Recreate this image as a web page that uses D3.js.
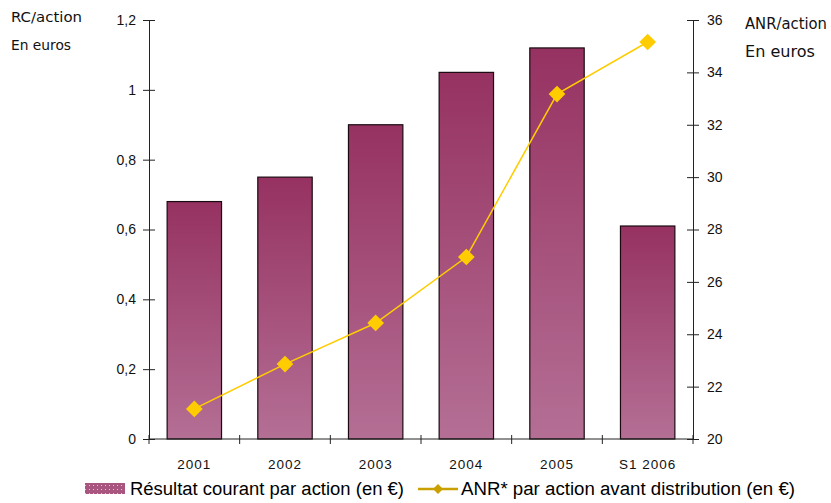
<!DOCTYPE html>
<html>
<head>
<meta charset="utf-8">
<script src="https://cdn.jsdelivr.net/npm/d3@7"></script>
<style>
  html, body { margin: 0; padding: 0; background: #fff; }
  svg { display: block; }
</style>
</head>
<body>
<svg id="chart" width="831" height="503"></svg>
<script>
// Per-share figures by period
const categories = ["2001", "2002", "2003", "2004", "2005", "S1 2006"];
const rcValues = [0.68, 0.75, 0.90, 1.05, 1.12, 0.61];        // Résultat courant par action (€)
const anrValues = [21.15, 22.86, 24.43, 26.95, 33.17, 35.16];  // ANR par action avant distribution (€)
const leftTicks = [0, 0.2, 0.4, 0.6, 0.8, 1, 1.2];
const rightTicks = [20, 22, 24, 26, 28, 30, 32, 34, 36];
const legendLabels = ["Résultat courant par action (en €)", "ANR* par action avant distribution (en €)"];

const svg = d3.select("#chart");
const plot = { left: 149, right: 693, top: 20, bottom: 439 };

const x = d3.scaleBand().domain(categories).range([plot.left, plot.right]).paddingInner(0.4).paddingOuter(0.2);
const xEdges = d3.scaleLinear().domain([0, categories.length]).range([plot.left, plot.right]);
const yL = d3.scaleLinear().domain([0, 1.2]).range([plot.bottom, plot.top]);
const yR = d3.scaleLinear().domain([20, 36]).range([plot.bottom, plot.top]);

const defs = svg.append("defs");
const grad = defs.append("linearGradient").attr("id", "barGrad")
  .attr("x1", 0).attr("y1", 0).attr("x2", 0).attr("y2", 1);
grad.append("stop").attr("offset", "0%").attr("stop-color", "#963262");
grad.append("stop").attr("offset", "100%").attr("stop-color", "#b46f95");

const pat = defs.append("pattern").attr("id", "legendPat")
  .attr("width", 4).attr("height", 4).attr("patternUnits", "userSpaceOnUse");
pat.append("rect").attr("width", 4).attr("height", 4).attr("fill", "#a8557f");
pat.append("rect").attr("x", 1).attr("y", 1).attr("width", 1).attr("height", 1).attr("fill", "#e2c3d3");

const fmt = d => d3.format("")(d).replace(".", ",");
const tickFont = "'Liberation Sans', Arial, sans-serif";

// Bars
svg.append("g").selectAll("rect").data(categories).join("rect")
  .attr("x", d => x(d))
  .attr("y", (d, i) => yL(rcValues[i]))
  .attr("width", x.bandwidth())
  .attr("height", (d, i) => yL(0) - yL(rcValues[i]))
  .attr("fill", "url(#barGrad)")
  .attr("stroke", "#1a0a10")
  .attr("stroke-width", 1.2);

// Left axis
const leftAxis = d3.axisLeft(yL).tickValues(leftTicks).tickFormat(fmt).tickSizeInner(6).tickSizeOuter(0).tickPadding(7);
const gL = svg.append("g").attr("transform", `translate(${plot.left},0)`).call(leftAxis);
gL.selectAll(".tick line").attr("x2", 6).attr("x1", -6);

// Right axis
const rightAxis = d3.axisRight(yR).tickValues(rightTicks).tickSizeInner(6).tickSizeOuter(0).tickPadding(8);
const gR = svg.append("g").attr("transform", `translate(${plot.right},0)`).call(rightAxis);
gR.selectAll(".tick line").attr("x1", -6).attr("x2", 6);

// Bottom axis: category boundaries get ticks, labels sit centred in each band
const gB = svg.append("g").attr("transform", `translate(0,${plot.bottom})`);
gB.append("line").attr("x1", plot.left).attr("x2", plot.right).attr("stroke", "#222");
gB.selectAll("line.edge").data(d3.range(categories.length + 1)).join("line")
  .attr("class", "edge")
  .attr("x1", i => xEdges(i)).attr("x2", i => xEdges(i))
  .attr("y1", -4).attr("y2", 5).attr("stroke", "#222");
gB.selectAll("text").data(categories).join("text")
  .attr("x", d => x(d) + x.bandwidth() / 2)
  .attr("y", 30)
  .attr("text-anchor", "middle")
  .attr("font-family", tickFont)
  .attr("font-size", 13.5)
  .attr("letter-spacing", 1)
  .attr("fill", "#111")
  .text(d => d);

[gL, gR].forEach(g => {
  g.select(".domain").attr("stroke", "#222");
  g.selectAll(".tick line").attr("stroke", "#222");
  g.selectAll(".tick text").attr("font-family", tickFont).attr("font-size", 14).attr("fill", "#111");
});

// ANR line with diamond markers
const line = d3.line()
  .x((d, i) => x(categories[i]) + x.bandwidth() / 2)
  .y(d => yR(d));
svg.append("path").datum(anrValues)
  .attr("d", line).attr("fill", "none").attr("stroke", "#ffcc00").attr("stroke-width", 1.5);
svg.append("g").selectAll("path").data(anrValues).join("path")
  .attr("transform", (d, i) => `translate(${x(categories[i]) + x.bandwidth() / 2},${yR(d)}) rotate(45)`)
  .attr("d", d3.symbol().type(d3.symbolSquare).size(140))
  .attr("fill", "#ffcc00");

// Axis titles
const titleFont = "'DejaVu Sans', Verdana, sans-serif";
const titles = [
  { t: "RC/action", x: 11, y: 22, size: 14, w: 71 },
  { t: "En euros", x: 11, y: 50, size: 14, w: 60 },
  { t: "ANR/action", x: 745, y: 29, size: 15, w: 82 },
  { t: "En euros", x: 745, y: 57, size: 15, w: 70 }
];
svg.append("g").selectAll("text").data(titles).join("text")
  .attr("x", d => d.x).attr("y", d => d.y)
  .attr("font-family", titleFont).attr("font-size", d => d.size).attr("fill", "#111")
  .attr("textLength", d => d.w).attr("lengthAdjust", "spacingAndGlyphs")
  .text(d => d.t);

// Legend
const lg = svg.append("g");
lg.append("rect").attr("x", 85).attr("y", 483).attr("width", 40).attr("height", 11).attr("fill", "url(#legendPat)");
lg.append("text").attr("x", 130).attr("y", 495)
  .attr("font-family", tickFont).attr("font-size", 18).attr("fill", "#000")
  .attr("textLength", 274).attr("lengthAdjust", "spacingAndGlyphs").text(legendLabels[0]);
lg.append("line").attr("x1", 418).attr("x2", 458).attr("y1", 489).attr("y2", 489)
  .attr("stroke", "#c9a000").attr("stroke-width", 2.5);
lg.append("path").attr("transform", "translate(438,489) rotate(45)")
  .attr("d", d3.symbol().type(d3.symbolSquare).size(50)).attr("fill", "#c9a000");
lg.append("text").attr("x", 461).attr("y", 495)
  .attr("font-family", tickFont).attr("font-size", 18).attr("fill", "#000")
  .attr("textLength", 334).attr("lengthAdjust", "spacingAndGlyphs").text(legendLabels[1]);
</script>
</body>
</html>
